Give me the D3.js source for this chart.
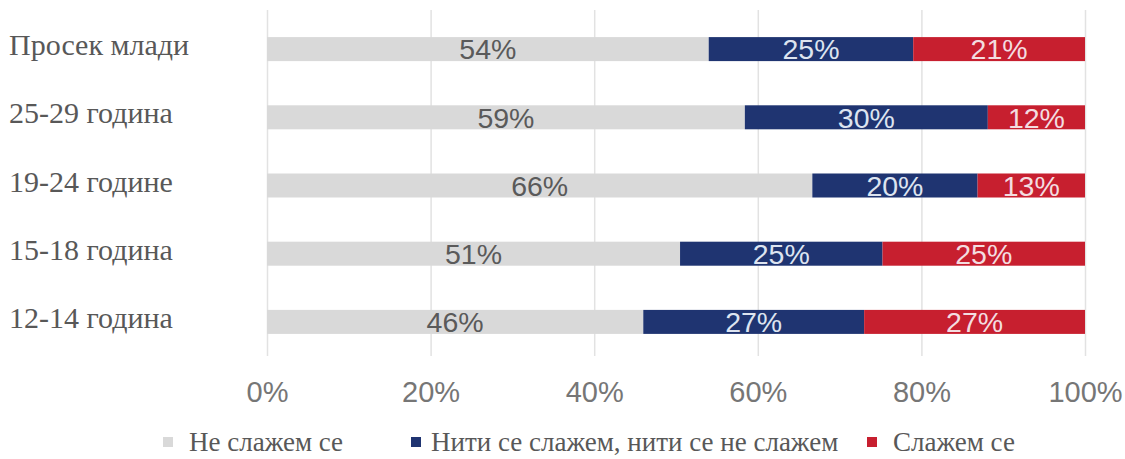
<!DOCTYPE html>
<html>
<head>
<meta charset="utf-8">
<script src="https://cdn.jsdelivr.net/npm/d3@7"></script>
<style>
  html, body { margin: 0; padding: 0; background: #fff; }
  svg { display: block; }
</style>
</head>
<body>
<svg id="chart" width="1125" height="459"></svg>
<script>
// Age groups, top to bottom
const categories = ["Просек млади", "25-29 година", "19-24 године", "15-18 година", "12-14 година"];
// Series (shares in %)
const seriesNames = ["Не слажем се", "Нити се слажем, нити се не слажем", "Слажем се"];
const disagree = [54, 59, 66, 51, 46];
const neutral  = [25, 30, 20, 25, 27];
const agree    = [21, 12, 13, 25, 27];
const tickValues = [0, 0.2, 0.4, 0.6, 0.8, 1];

const colors = ["#d9d9d9", "#1f3471", "#c71f2f"];
const labelColors = ["#5a5a5a", "#dde4f0", "#f3dde0"];

const rows = categories.map((c, i) => ({
  cat: c,
  [seriesNames[0]]: disagree[i],
  [seriesNames[1]]: neutral[i],
  [seriesNames[2]]: agree[i]
}));

const svg = d3.select("#chart");
const x = d3.scaleLinear().domain([0, 1]).range([267, 1085]);
const y = d3.scaleBand().domain(categories).range([15, 356])
  .paddingInner(0.648).paddingOuter(0.324);

// 100% stacked: each row is normalised to its own total
const stack = d3.stack().keys(seriesNames).offset(d3.stackOffsetExpand);
const layers = stack(rows);

// gridlines + percentage ticks
const axis = d3.axisBottom(x).tickValues(tickValues).tickFormat(d3.format(".0%"))
  .tickSize(-(356 - 10)).tickPadding(25);
const gAxis = svg.append("g").attr("transform", "translate(0,356)").call(axis);
gAxis.select(".domain").remove();
gAxis.selectAll(".tick line").attr("stroke", "#e2e2e2").attr("stroke-width", 1.5);
gAxis.selectAll(".tick text")
  .attr("fill", "#767676")
  .style("font-family", "'Liberation Sans', Arial, sans-serif")
  .style("font-size", "29px");

// bars
const gLayer = svg.append("g").selectAll("g").data(layers).join("g")
  .attr("fill", (d, i) => colors[i]);
gLayer.selectAll("rect").data(d => d).join("rect")
  .attr("x", d => x(d[0]))
  .attr("y", d => y(d.data.cat))
  .attr("width", d => x(d[1]) - x(d[0]))
  .attr("height", y.bandwidth());

// value labels centred in each segment
layers.forEach((layer, li) => {
  svg.append("g").selectAll("text").data(layer).join("text")
    .attr("x", d => (x(d[0]) + x(d[1])) / 2)
    .attr("y", d => y(d.data.cat) + y.bandwidth() / 2)
    .attr("dy", "0.36em")
    .attr("text-anchor", "middle")
    .attr("fill", labelColors[li])
    .style("font-family", "'Liberation Sans', Arial, sans-serif")
    .style("font-size", "28.5px")
    .text(d => d.data[layer.key] + "%");
});

// category labels, sitting slightly above the bar centre line
svg.append("g").selectAll("text").data(categories).join("text")
  .attr("x", 9)
  .attr("y", d => y(d) + y.bandwidth() / 2 - 3)
  .attr("dy", "0.3em")
  .attr("fill", "#585858")
  .style("font-family", "'Liberation Serif', 'Times New Roman', serif")
  .style("font-size", "30px")
  .text(d => d);

// legend
const legendX = [163, 411, 867];
const lg = svg.append("g").selectAll("g").data(seriesNames).join("g")
  .attr("transform", (d, i) => `translate(${legendX[i]},442)`);
lg.append("rect").attr("x", 0).attr("y", -5).attr("width", 10).attr("height", 10)
  .attr("fill", (d, i) => colors[i]);
lg.append("text").attr("x", (d, i) => i === 1 ? 20 : 26).attr("y", 0).attr("dy", "0.33em")
  .attr("fill", "#585858")
  .style("font-family", "'Liberation Serif', 'Times New Roman', serif")
  .style("font-size", "27px")
  .text(d => d);
</script>
</body>
</html>
